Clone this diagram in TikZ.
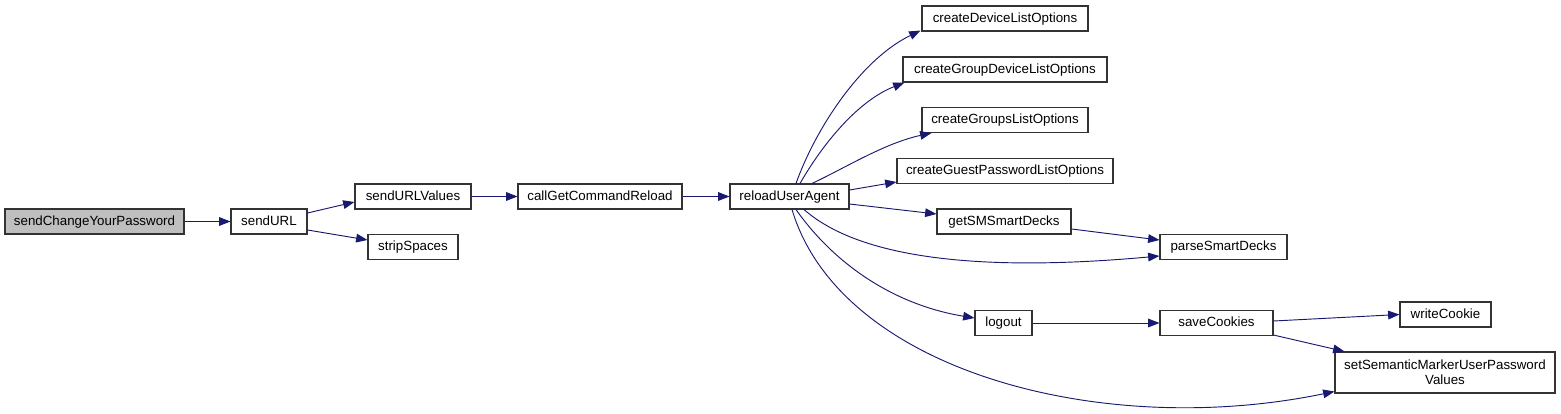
\documentclass[tikz,border=0pt]{standalone}
\usepackage{fontspec}
\setmainfont{Liberation Sans}
\usetikzlibrary{arrows.meta,calc}
\definecolor{edgeblue}{HTML}{191970}
\definecolor{boxline}{HTML}{333333}
\definecolor{grayfill}{HTML}{BFBFBF}
\begin{document}
\begin{tikzpicture}[x=0.75pt,y=-0.75pt,
  fn/.style={draw=boxline,line width=0.8pt,fill=white,rectangle,inner sep=0pt,minimum height=18.75pt,text height=7pt,text depth=1.6pt,font=\fontsize{10}{12}\selectfont},
  root/.style={fn,fill=grayfill},
  call/.style={draw=edgeblue,line width=0.7pt,-{Triangle[length=8.5pt,width=6.5pt]}}]
\useasboundingbox (0,0) rectangle (1561,414);
\node[root,minimum width=134.25pt] (scyp) at (94.5,221.5) {sendChangeYourPassword};
\node[fn,minimum width=57pt] (surl) at (269,221.5) {sendURL};
\node[fn,minimum width=87pt] (suv) at (413,196.5) {sendURLValues};
\node[fn,minimum width=67.5pt] (strip) at (413,247) {stripSpaces};
\node[fn,minimum width=123pt] (cgcr) at (600,196.5) {callGetCommandReload};
\node[fn,minimum width=89.25pt] (rua) at (789.5,196.5) {reloadUserAgent};
\node[fn,minimum width=124.5pt] (cdlo) at (1005,18.5) {createDeviceListOptions};
\node[fn,minimum width=153pt] (cgdlo) at (1005,69.5) {createGroupDeviceListOptions};
\node[fn,minimum width=124.5pt] (cglo) at (1005,120) {createGroupsListOptions};
\node[fn,minimum width=162pt] (cgplo) at (1005,171) {createGuestPasswordListOptions};
\node[fn,minimum width=100.5pt] (gsm) at (1004,221.5) {getSMSmartDecks};
\node[fn,minimum width=95.25pt] (psd) at (1223.5,247) {parseSmartDecks};
\node[fn,minimum width=42.75pt] (lo) at (1003.5,323) {logout};
\node[fn,minimum width=84.75pt] (sc) at (1216.5,323) {saveCookies};
\node[fn,minimum width=68.25pt] (wc) at (1445.5,314.5) {writeCookie};
\node[fn,minimum width=165pt,minimum height=30.75pt,text height=,text depth=,align=center] (ssm) at (1445,372.5) {setSemanticMarkerUserPassword\\[-1pt]Values};

\draw[call] (scyp.east) -- (surl.west);
\draw[call] ($(surl.east)+(0,-8.5)$) -- ($(suv.west)+(0,5.5)$);
\draw[call] ($(surl.east)+(0,8.5)$) -- ($(strip.west)+(0,-7)$);
\draw[call] (suv.east) -- (cgcr.west);
\draw[call] (cgcr.east) -- (rua.west);
\draw[call] ($(rua.north)+(6.5,0)$) .. controls (815,130) and (860,60) .. ($(cdlo.south west)+(-1,-1)$);
\draw[call] ($(rua.north)+(10.5,0)$) .. controls (825,140) and (860,100) .. ($(cgdlo.south west)+(2,0)$);
\draw[call] ($(rua.north)+(22.5,0)$) .. controls (845,168) and (885,143) .. ($(cglo.south west)+(10,0)$);
\draw[call] ($(rua.east)+(0,-6.5)$) -- ($(cgplo.west)+(0,11)$);
\draw[call] ($(rua.east)+(0,7.5)$) -- ($(gsm.west)+(0,-7.5)$);
\draw[call] ($(gsm.east)+(0,7.5)$) -- ($(psd.west)+(0,-7)$);
\draw[call] ($(rua.south)+(14.5,0)$) .. controls (850,250) and (950,275) .. ($(psd.west)+(0,9)$);
\draw[call] ($(rua.south)+(6.5,0)$) .. controls (835,265) and (895,305) .. ($(lo.west)+(0,-5)$);
\draw[call] ($(rua.south)+(2.5,0)$) .. controls (840,370) and (1100,440) .. ($(ssm.south west)+(0,-2)$);
\draw[call] (lo.east) -- (sc.west);
\draw[call] ($(sc.east)+(0,-2)$) -- (wc.west);
\draw[call] ($(sc.south east)+(0,-1)$) -- ($(ssm.north west)+(10,0)$);
\end{tikzpicture}
\end{document}
